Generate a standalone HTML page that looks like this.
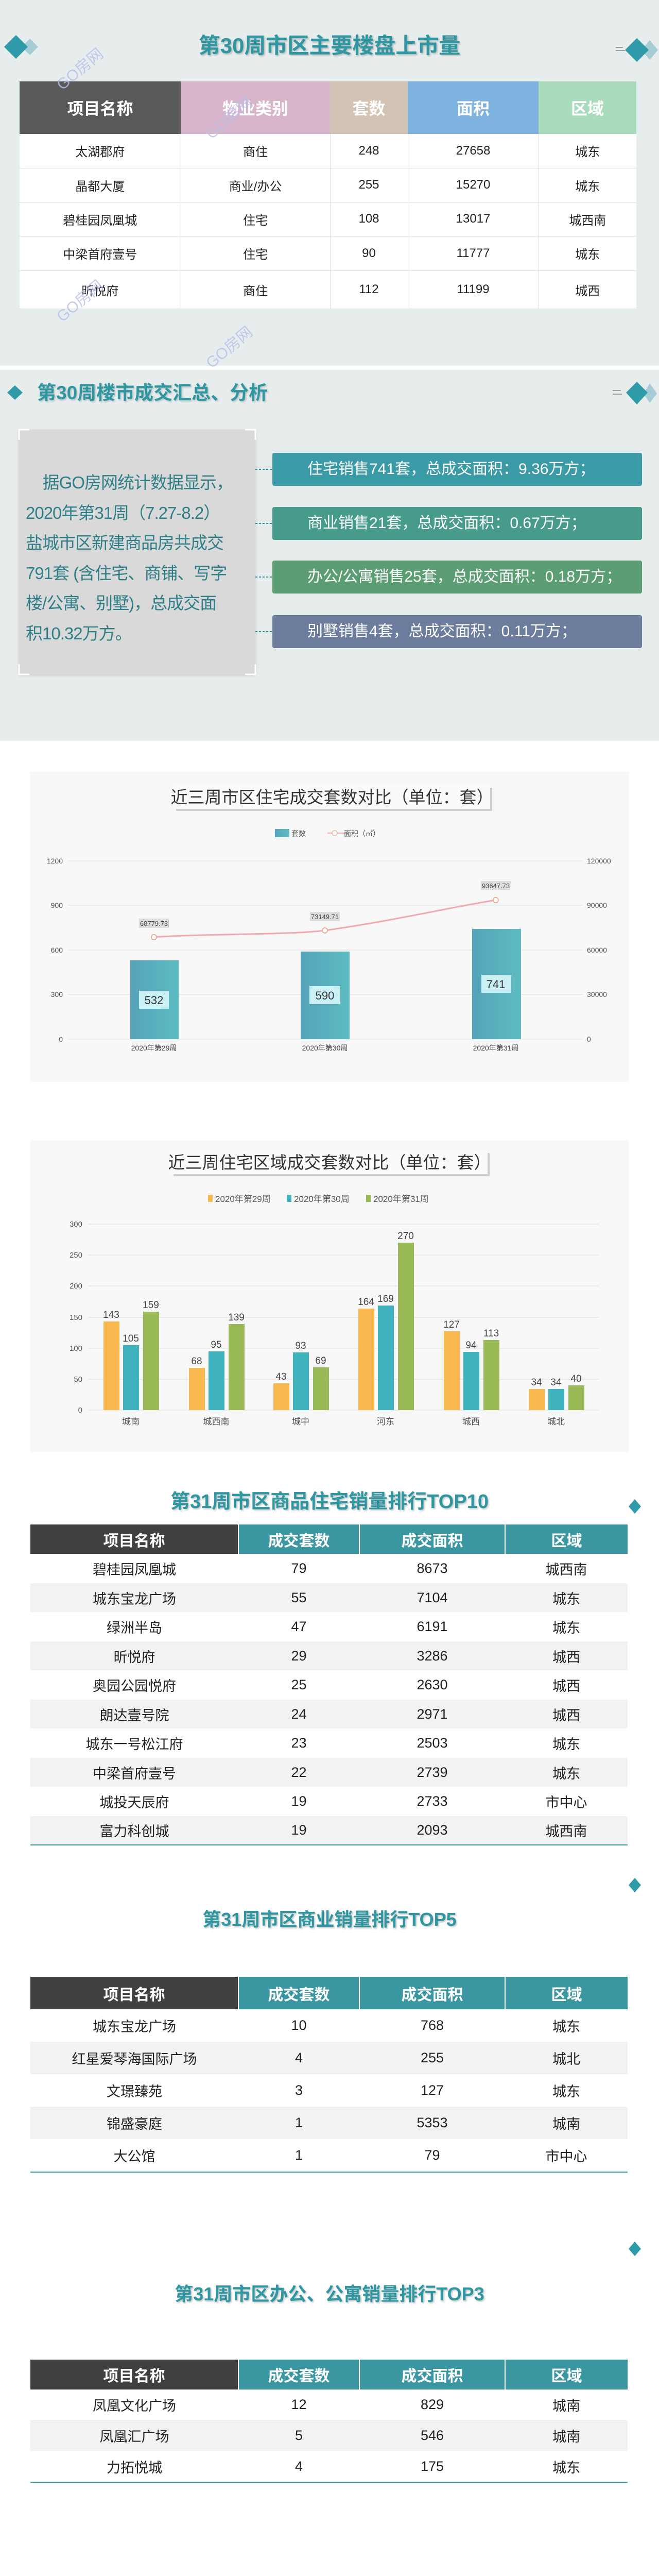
<!DOCTYPE html>
<html><head><meta charset="utf-8">
<style>
*{margin:0;padding:0;box-sizing:border-box}
html,body{width:1280px;height:5038px;overflow:hidden}
body{background:#fff;font-family:"Liberation Sans","Noto Sans CJK SC",sans-serif;position:relative}
.a{position:absolute}
.t{position:absolute;left:0;width:1280px;text-align:center;color:#2e97a1;font-weight:bold;text-shadow:2px 2px 3px rgba(0,0,0,.25)}
table{border-collapse:collapse;position:absolute;table-layout:fixed}
td,th{text-align:center;padding:0}
.wm{position:absolute;color:#b7c0ea;font-size:30px;transform:rotate(-40deg);opacity:.8}
</style></head><body>
<div class="a" style="left:0;top:0;width:1280px;height:710px;background:#e7eded"></div>
<div class="a" style="left:0;top:718px;width:1280px;height:720px;background:#e7eded"></div>

<!-- section 1 -->
<svg class="a" style="left:0;top:0" width="1280" height="160">
<polygon points="58,75 74,91 58,107 42,91" fill="#a6cdd5"/>
<polygon points="31,68 54,91 31,114 8,91" fill="#2f9aa8"/>
<polygon points="1262,78 1278,97 1262,116 1246,97" fill="#a6cdd5"/>
<polygon points="1237,74 1260,97 1237,120 1214,97" fill="#2f9aa8"/>
<line x1="1196" y1="92" x2="1210" y2="92" stroke="#555"/><line x1="1196" y1="98" x2="1214" y2="98" stroke="#555"/>
</svg>
<div class="t" style="top:62px;font-size:42px;line-height:54px">第30周市区主要楼盘上市量</div>
<table style="left:38px;top:158px;width:1198px;font-size:24px;color:#222;background:#fff">
<colgroup><col style="width:313px"><col style="width:290px"><col style="width:151px"><col style="width:254px"><col style="width:190px"></colgroup>
<tr style="height:102px;color:#fff;font-size:32px;font-weight:bold"><th style="background:#595959">项目名称</th><th style="background:#d8b5cb">物业类别</th><th style="background:#d3c3b5">套数</th><th style="background:#7fb3df">面积</th><th style="background:#a9dcbd">区域</th></tr>
<tr style="height:66px;border-bottom:1px solid #ddd"><td style="border-right:1px solid #ddd">太湖郡府</td><td style="border-right:1px solid #ddd">商住</td><td style="border-right:1px solid #ddd">248</td><td style="border-right:1px solid #ddd">27658</td><td>城东</td></tr>
<tr style="height:66px;border-bottom:1px solid #ddd"><td style="border-right:1px solid #ddd">晶都大厦</td><td style="border-right:1px solid #ddd">商业/办公</td><td style="border-right:1px solid #ddd">255</td><td style="border-right:1px solid #ddd">15270</td><td>城东</td></tr>
<tr style="height:66px;border-bottom:1px solid #ddd"><td style="border-right:1px solid #ddd">碧桂园凤凰城</td><td style="border-right:1px solid #ddd">住宅</td><td style="border-right:1px solid #ddd">108</td><td style="border-right:1px solid #ddd">13017</td><td>城西南</td></tr>
<tr style="height:67px;border-bottom:1px solid #ddd"><td style="border-right:1px solid #ddd">中梁首府壹号</td><td style="border-right:1px solid #ddd">住宅</td><td style="border-right:1px solid #ddd">90</td><td style="border-right:1px solid #ddd">11777</td><td>城东</td></tr>
<tr style="height:74px;border-bottom:1px solid #ddd"><td style="border-right:1px solid #ddd">昕悦府</td><td style="border-right:1px solid #ddd">商住</td><td style="border-right:1px solid #ddd">112</td><td style="border-right:1px solid #ddd">11199</td><td>城西</td></tr>
</table>
<div class="wm" style="left:100px;top:110px">GO房网</div>
<div class="wm" style="left:390px;top:205px">GO房网</div>
<div class="wm" style="left:100px;top:560px">GO房网</div>
<div class="wm" style="left:390px;top:650px">GO房网</div>

<!-- section 2 -->
<svg class="a" style="left:0;top:730px" width="1280" height="70">
<polygon points="29,18 44,32 29,46 14,32" fill="#2f9aa8"/>
<polygon points="1262,14 1276,34 1262,52 1250,34" fill="#a6cdd5"/>
<polygon points="1237,11 1258,32 1237,55 1216,32" fill="#2f9aa8"/>
<line x1="1190" y1="28" x2="1206" y2="28" stroke="#555"/><line x1="1190" y1="35" x2="1208" y2="35" stroke="#555"/>
</svg>
<div class="a" style="left:72px;top:738px;font-size:37px;line-height:50px;font-weight:bold;color:#2e97a1;text-shadow:2px 2px 3px rgba(0,0,0,.2)">第30周楼市成交汇总、分析</div>
<div class="a" style="left:37px;top:834px;width:459px;height:475px;background:#d9d9d9;box-shadow:0 2px 6px rgba(0,0,0,.15)"></div>
<svg class="a" style="left:35px;top:832px" width="463" height="479"><g stroke="#fff" stroke-width="3" fill="none"><path d="M2,22V2H22"/><path d="M441,2H461V22"/><path d="M2,457V477H22"/><path d="M441,477H461V457"/></g></svg>
<div class="a" style="left:50px;top:908px;width:440px;font-size:33px;line-height:58.5px;color:#2e7f88;white-space:nowrap;letter-spacing:-1px">&nbsp;&nbsp;&nbsp;&nbsp;据GO房网统计数据显示，<br>2020年第31周（7.27-8.2）<br>盐城市区新建商品房共成交<br>791套 (含住宅、商铺、写字<br>楼/公寓、别墅)，总成交面<br>积10.32万方。</div>
<svg class="a" style="left:496px;top:870px" width="40" height="400"><g stroke="#2e97a1" stroke-width="2" stroke-dasharray="4,3" fill="none"><line x1="0" y1="41" x2="32" y2="41"/><line x1="0" y1="146" x2="32" y2="146"/><line x1="0" y1="250" x2="32" y2="250"/><line x1="0" y1="356" x2="32" y2="356"/></g></svg>
<div class="a" style="left:529px;top:879px;width:718px;height:64px;background:#3a9ba7;border-radius:4px;color:#fff;font-size:30px;line-height:64px;padding-left:68px">住宅销售741套，总成交面积：9.36万方；</div>
<div class="a" style="left:529px;top:984px;width:718px;height:64px;background:#479b8b;border-radius:4px;color:#fff;font-size:30px;line-height:64px;padding-left:68px">商业销售21套，总成交面积：0.67万方；</div>
<div class="a" style="left:529px;top:1088px;width:718px;height:64px;background:#5b9e73;border-radius:4px;color:#fff;font-size:30px;line-height:64px;padding-left:68px;white-space:nowrap;overflow:hidden">办公/公寓销售25套，总成交面积：0.18万方；</div>
<div class="a" style="left:529px;top:1194px;width:718px;height:64px;background:#6b7c9d;border-radius:4px;color:#fff;font-size:30px;line-height:64px;padding-left:68px">别墅销售4套，总成交面积：0.11万方；</div>

<!-- chart 1 -->
<svg class="a" style="left:0;top:1490px" width="1280" height="620" font-family="Liberation Sans, Noto Sans CJK SC, sans-serif">
<defs><linearGradient id="g1" x1="0" x2="1"><stop offset="0" stop-color="#56a3b9"/><stop offset="1" stop-color="#5cbcc1"/></linearGradient></defs>
<rect x="58" y="8" width="1164" height="602" fill="#f8f8f8"/>
<rect x="342" y="39" width="614" height="45" fill="#cfcfcf"/>
<rect x="338" y="35" width="614" height="45" fill="#fafafa"/>
<text x="645" y="69" font-size="33" fill="#333" text-anchor="middle">近三周市区住宅成交套数对比（单位：套）</text>
<rect x="534" y="119" width="28" height="16" fill="url(#g1)"/><text x="566" y="133" font-size="14" fill="#555">套数</text>
<line x1="636" y1="127" x2="676" y2="127" stroke="#f2a8b1" stroke-width="2"/><circle cx="650" cy="127" r="5" fill="#fff" stroke="#e6a07e"/>
<text x="668" y="133" font-size="14" fill="#555">面积（㎡）</text>
<g stroke="#ddd" stroke-width="1"><line x1="133" y1="181" x2="1131" y2="181"/><line x1="133" y1="267" x2="1131" y2="267"/><line x1="133" y1="354" x2="1131" y2="354"/><line x1="133" y1="440" x2="1131" y2="440"/><line x1="133" y1="527" x2="1131" y2="527"/></g>
<g font-size="14" fill="#555" text-anchor="end"><text x="122" y="186">1200</text><text x="122" y="272">900</text><text x="122" y="359">600</text><text x="122" y="445">300</text><text x="122" y="532">0</text></g>
<g font-size="14" fill="#555"><text x="1140" y="186">120000</text><text x="1140" y="272">90000</text><text x="1140" y="359">60000</text><text x="1140" y="445">30000</text><text x="1140" y="532">0</text></g>
<rect x="253" y="374" width="94" height="153" fill="url(#g1)"/>
<rect x="584" y="357" width="95" height="170" fill="url(#g1)"/>
<rect x="917" y="313" width="95" height="214" fill="url(#g1)"/>
<g font-size="22" fill="#333" text-anchor="middle">
<rect x="270" y="433" width="58" height="35" fill="#c9f0f5"/><text x="299" y="459">532</text>
<rect x="601" y="424" width="60" height="35" fill="#c9f0f5"/><text x="631" y="450">590</text>
<rect x="935" y="402" width="58" height="35" fill="#c9f0f5"/><text x="963" y="428">741</text></g>
<path d="M299,329 C400,322 560,325 631,316 C760,298 880,270 963,257" stroke="#f2a8b1" stroke-width="3" fill="none"/>
<g fill="#fff" stroke="#e6a07e" stroke-width="1.5"><circle cx="299" cy="329" r="5"/><circle cx="631" cy="316" r="5"/><circle cx="963" cy="257" r="5"/></g>
<g font-size="13" fill="#444" text-anchor="middle">
<rect x="270" y="293" width="58" height="18" fill="#ddd"/><text x="299" y="307">68779.73</text>
<rect x="602" y="280" width="58" height="18" fill="#ddd"/><text x="631" y="294">73149.71</text>
<rect x="934" y="220" width="58" height="18" fill="#ddd"/><text x="963" y="234">93647.73</text></g>
<g font-size="14" fill="#444" text-anchor="middle"><text x="299" y="549">2020年第29周</text><text x="631" y="549">2020年第30周</text><text x="963" y="549">2020年第31周</text></g>
</svg>

<!-- chart 2 -->
<svg class="a" style="left:0;top:2205px" width="1280" height="620" font-family="Liberation Sans, Noto Sans CJK SC, sans-serif">
<rect x="58" y="8" width="1164" height="606" fill="#f8f8f8"/>
<rect x="337" y="33" width="614" height="45" fill="#cfcfcf"/>
<rect x="333" y="29" width="614" height="45" fill="#fafafa"/>
<text x="640" y="63" font-size="33" fill="#333" text-anchor="middle">近三周住宅区域成交套数对比（单位：套）</text>
<g font-size="17" fill="#555"><rect x="404" y="114" width="9" height="14" fill="#f9b84f"/><text x="418" y="128">2020年第29周</text>
<rect x="557" y="114" width="9" height="14" fill="#3fb4bf"/><text x="571" y="128">2020年第30周</text>
<rect x="711" y="114" width="9" height="14" fill="#9aba58"/><text x="725" y="128">2020年第31周</text></g>
<g stroke="#ddd"><line x1="171" y1="171" x2="1163" y2="171"/><line x1="171" y1="231" x2="1163" y2="231"/><line x1="171" y1="291" x2="1163" y2="291"/><line x1="171" y1="352" x2="1163" y2="352"/><line x1="171" y1="412" x2="1163" y2="412"/><line x1="171" y1="472" x2="1163" y2="472"/><line x1="171" y1="532" x2="1163" y2="532"/></g>
<g font-size="15" fill="#555" text-anchor="end"><text x="160" y="176">300</text><text x="160" y="236">250</text><text x="160" y="296">200</text><text x="160" y="357">150</text><text x="160" y="417">100</text><text x="160" y="477">50</text><text x="160" y="537">0</text></g>
<g font-size="19" fill="#444" text-anchor="middle">
<rect x="201" y="360" width="31" height="172" fill="#f9b84f"/><text x="216" y="353">143</text>
<rect x="239" y="406" width="31" height="126" fill="#3fb4bf"/><text x="254" y="399">105</text>
<rect x="278" y="341" width="31" height="191" fill="#9aba58"/><text x="293" y="334">159</text>
<rect x="367" y="450" width="31" height="82" fill="#f9b84f"/><text x="382" y="443">68</text>
<rect x="405" y="418" width="31" height="114" fill="#3fb4bf"/><text x="420" y="411">95</text>
<rect x="444" y="365" width="31" height="167" fill="#9aba58"/><text x="459" y="358">139</text>
<rect x="531" y="480" width="31" height="52" fill="#f9b84f"/><text x="546" y="473">43</text>
<rect x="569" y="420" width="31" height="112" fill="#3fb4bf"/><text x="584" y="413">93</text>
<rect x="608" y="449" width="31" height="83" fill="#9aba58"/><text x="623" y="442">69</text>
<rect x="696" y="335" width="31" height="197" fill="#f9b84f"/><text x="711" y="328">164</text>
<rect x="734" y="329" width="31" height="203" fill="#3fb4bf"/><text x="749" y="322">169</text>
<rect x="773" y="207" width="31" height="325" fill="#9aba58"/><text x="788" y="200">270</text>
<rect x="862" y="379" width="31" height="153" fill="#f9b84f"/><text x="877" y="372">127</text>
<rect x="900" y="419" width="31" height="113" fill="#3fb4bf"/><text x="915" y="412">94</text>
<rect x="939" y="396" width="31" height="136" fill="#9aba58"/><text x="954" y="389">113</text>
<rect x="1027" y="491" width="31" height="41" fill="#f9b84f"/><text x="1042" y="484">34</text>
<rect x="1065" y="491" width="31" height="41" fill="#3fb4bf"/><text x="1080" y="484">34</text>
<rect x="1104" y="484" width="31" height="48" fill="#9aba58"/><text x="1119" y="477">40</text>
</g>
<g font-size="17" fill="#555" text-anchor="middle"><text x="254" y="560">城南</text><text x="420" y="560">城西南</text><text x="584" y="560">城中</text><text x="749" y="560">河东</text><text x="915" y="560">城西</text><text x="1080" y="560">城北</text></g>
</svg>

<!-- TOP10 -->
<svg class="a" style="left:1218px;top:2895px" width="50" height="60"><polygon points="15,15 27,29 15,43 3,29" fill="#2f9aa8"/></svg>
<div class="t" style="top:2890px;font-size:38px;line-height:50px">第31周市区商品住宅销量排行TOP10</div>
<table style="left:59px;top:2959px;width:1160px;font-size:27px;color:#222">
<colgroup><col style="width:404px"><col style="width:235px"><col style="width:283px"><col style="width:238px"></colgroup>
<tr style="height:57px;color:#fff;font-size:30px;font-weight:bold"><th style="background:#404040">项目名称</th><th style="background:#3a97a2;border-left:2px solid #fff">成交套数</th><th style="background:#3a97a2;border-left:2px solid #fff">成交面积</th><th style="background:#3a97a2;border-left:2px solid #fff">区域</th></tr>
<tr style="height:57px;background:#fff"><td>碧桂园凤凰城</td><td>79</td><td>8673</td><td>城西南</td></tr>
<tr style="height:56px;background:#f2f2f2"><td>城东宝龙广场</td><td>55</td><td>7104</td><td>城东</td></tr>
<tr style="height:57px;background:#fff"><td>绿洲半岛</td><td>47</td><td>6191</td><td>城东</td></tr>
<tr style="height:56px;background:#f2f2f2"><td>昕悦府</td><td>29</td><td>3286</td><td>城西</td></tr>
<tr style="height:57px;background:#fff"><td>奥园公园悦府</td><td>25</td><td>2630</td><td>城西</td></tr>
<tr style="height:56px;background:#f2f2f2"><td>朗达壹号院</td><td>24</td><td>2971</td><td>城西</td></tr>
<tr style="height:57px;background:#fff"><td>城东一号松江府</td><td>23</td><td>2503</td><td>城东</td></tr>
<tr style="height:56px;background:#f2f2f2"><td>中梁首府壹号</td><td>22</td><td>2739</td><td>城东</td></tr>
<tr style="height:57px;background:#fff"><td>城投天辰府</td><td>19</td><td>2733</td><td>市中心</td></tr>
<tr style="height:56px;background:#f2f2f2;border-bottom:2px solid #3a97a2"><td>富力科创城</td><td>19</td><td>2093</td><td>城西南</td></tr>
</table>

<!-- TOP5 -->
<svg class="a" style="left:1218px;top:3630px" width="50" height="60"><polygon points="15,15 27,29 15,43 3,29" fill="#2f9aa8"/></svg>
<div class="t" style="top:3701px;font-size:36px;line-height:50px">第31周市区商业销量排行TOP5</div>
<table style="left:59px;top:3837px;width:1160px;font-size:27px;color:#222">
<colgroup><col style="width:404px"><col style="width:235px"><col style="width:283px"><col style="width:238px"></colgroup>
<tr style="height:63px;color:#fff;font-size:30px;font-weight:bold"><th style="background:#404040">项目名称</th><th style="background:#3a97a2;border-left:2px solid #fff">成交套数</th><th style="background:#3a97a2;border-left:2px solid #fff">成交面积</th><th style="background:#3a97a2;border-left:2px solid #fff">区域</th></tr>
<tr style="height:63px;background:#fff"><td>城东宝龙广场</td><td>10</td><td>768</td><td>城东</td></tr>
<tr style="height:63px;background:#f2f2f2"><td>红星爱琴海国际广场</td><td>4</td><td>255</td><td>城北</td></tr>
<tr style="height:63px;background:#fff"><td>文璟臻苑</td><td>3</td><td>127</td><td>城东</td></tr>
<tr style="height:63px;background:#f2f2f2"><td>锦盛豪庭</td><td>1</td><td>5353</td><td>城南</td></tr>
<tr style="height:64px;background:#fff;border-bottom:2px solid #3a97a2"><td>大公馆</td><td>1</td><td>79</td><td>市中心</td></tr>
</table>

<!-- TOP3 -->
<svg class="a" style="left:1218px;top:4336px" width="50" height="60"><polygon points="15,15 27,29 15,43 3,29" fill="#2f9aa8"/></svg>
<div class="t" style="top:4428px;font-size:36px;line-height:50px">第31周市区办公、公寓销量排行TOP3</div>
<table style="left:59px;top:4580px;width:1160px;font-size:27px;color:#222">
<colgroup><col style="width:404px"><col style="width:235px"><col style="width:283px"><col style="width:238px"></colgroup>
<tr style="height:58px;color:#fff;font-size:30px;font-weight:bold"><th style="background:#404040">项目名称</th><th style="background:#3a97a2;border-left:2px solid #fff">成交套数</th><th style="background:#3a97a2;border-left:2px solid #fff">成交面积</th><th style="background:#3a97a2;border-left:2px solid #fff">区域</th></tr>
<tr style="height:59px;background:#fff"><td>凤凰文化广场</td><td>12</td><td>829</td><td>城南</td></tr>
<tr style="height:60px;background:#f2f2f2"><td>凤凰汇广场</td><td>5</td><td>546</td><td>城南</td></tr>
<tr style="height:61px;background:#fff;border-bottom:2px solid #3a97a2"><td>力拓悦城</td><td>4</td><td>175</td><td>城东</td></tr>
</table>
</body></html>
